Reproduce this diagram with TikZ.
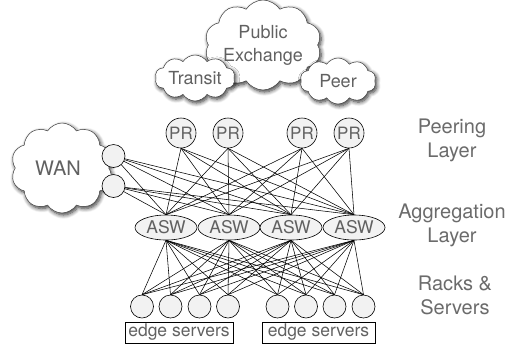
\documentclass[tikz,border=0pt]{standalone}
\usepackage{fontspec}
\setmainfont{TeX Gyre Heros}
\usetikzlibrary{shapes.symbols,shapes.geometric,shadows.blur}

\begin{document}
\begin{tikzpicture}[x=1pt,y=-1pt,
  cloudy/.style={cloud, cloud puffs=10, cloud puff arc=115, cloud ignores aspect,
    draw=black!75, fill=white, line width=0.5pt, inner sep=0pt, align=center,
    blur shadow={shadow xshift=1.5pt, shadow yshift=-2pt, shadow blur radius=4pt,
      shadow blur steps=8, shadow opacity=80},
    text=black!62, font=\fontsize{18}{23}\selectfont},
  router/.style={circle, draw, fill=black!5, line width=0.6pt, minimum size=30pt,
    inner sep=0pt, text=black!62, font=\fontsize{17}{17}\selectfont},
  switch/.style={ellipse, draw, fill=black!5, line width=0.6pt, minimum width=62pt,
    minimum height=25pt, inner sep=0pt, text=black!62, font=\fontsize{17.5}{17}\selectfont},
  port/.style={circle, draw, fill=black!5, line width=0.6pt, minimum size=23pt, inner sep=0pt},
  servbox/.style={draw, line width=0.6pt, minimum height=21pt, inner sep=0pt,
    text=black!62, font=\fontsize{17.5}{17}\selectfont},
  layer/.style={align=center, text=black!58, font=\fontsize{20}{24}\selectfont},
  link/.style={line width=0.55pt}
]
\useasboundingbox (0,0) rectangle (510,354);

% Upstream clouds
\node[cloudy, minimum width=112pt, minimum height=90pt] (pubx) at (263,45) {Public\\Exchange};
\node[cloudy, minimum width=80pt, minimum height=46pt] (transit) at (195,78) {Transit};
\node[cloudy, minimum width=76pt, minimum height=46pt] (peer) at (338,81) {Peer};

% WAN cloud and its ports
\node[cloudy, minimum width=102pt, minimum height=90pt, font=\fontsize{20}{20}\selectfont] (wan) at (62,168) {WAN\hspace*{8pt}};
\node[port] (wan1) at (113.5,156) {};
\node[port] (wan2) at (113.5,186) {};

% Peering layer
\node[router] (pr1) at (181,133) {PR};
\node[router] (pr2) at (228,133) {PR};
\node[router] (pr3) at (302,133) {PR};
\node[router] (pr4) at (349,133) {PR};

% Aggregation layer
\node[switch] (asw1) at (166,227.5) {ASW};
\node[switch] (asw2) at (229,227.5) {ASW};
\node[switch] (asw3) at (291,227.5) {ASW};
\node[switch] (asw4) at (354,227.5) {ASW};

% Racks
\node[port] (rk1) at (142,306.5) {};
\node[port] (rk2) at (170.5,306.5) {};
\node[port] (rk3) at (199.5,306.5) {};
\node[port] (rk4) at (228,306.5) {};
\node[port] (rk5) at (277.5,306.5) {};
\node[port] (rk6) at (306,306.5) {};
\node[port] (rk7) at (334.5,306.5) {};
\node[port] (rk8) at (363.5,306.5) {};

% Edge server boxes
\node[servbox, minimum width=108pt] (es1) at (179,332.5) {edge servers};
\node[servbox, minimum width=113pt] (es2) at (318.5,332.5) {edge servers};

% Links
\foreach \a in {1,...,4} {
  \foreach \p in {1,...,4}
    \draw[link] (pr\p.south) -- (asw\a.north);
  \foreach \w in {1,2}
    \draw[link] (wan\w) -- (asw\a.north);
  \foreach \r in {1,...,8}
    \draw[link] (asw\a.south) -- (rk\r.north);
}

% Layer names
\node[layer] (lpeer) at (452,140) {Peering\\Layer};
\node[layer] (lagg) at (452,225) {Aggregation\\Layer};
\node[layer] (lrack) at (455,295) {Racks \&\\Servers};
\end{tikzpicture}
\end{document}
